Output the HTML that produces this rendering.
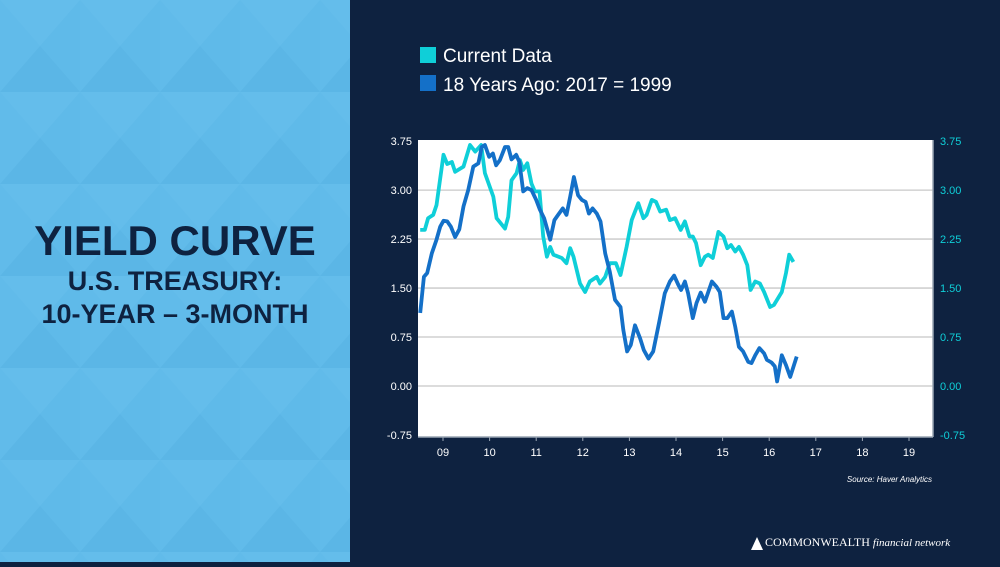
<!DOCTYPE html>
<html><head><meta charset="utf-8"><style>
body{margin:0;width:1000px;height:562px;overflow:hidden;background:#0e2240;font-family:"Liberation Sans",Arial,sans-serif}
</style></head><body>
<svg width="1000" height="562" xmlns="http://www.w3.org/2000/svg">
<defs><pattern id="tri" width="80" height="92" patternUnits="userSpaceOnUse">
<rect width="80" height="92" fill="#5fbae9"/>
<polygon points="0,0 80,0 40,46" fill="#64bdeb"/>
<polygon points="40,46 80,92 0,92" fill="#5bb6e6"/>
<polygon points="0,0 40,46 0,92" fill="#61bbea"/>
</pattern></defs>
<rect x="0" y="0" width="350" height="562" fill="url(#tri)"/>
<rect x="350" y="0" width="650" height="562" fill="#0e2240"/>
<g fill="#0e2240" font-weight="bold" text-anchor="middle">
<text x="175" y="255" font-size="42">YIELD CURVE</text>
<text x="175" y="290" font-size="27">U.S. TREASURY:</text>
<text x="175" y="323" font-size="27">10-YEAR – 3-MONTH</text>
</g>
<g>
<rect x="420" y="47" width="16" height="16" fill="#0fcfd8"/>
<text x="443" y="62" font-size="19" fill="#fff">Current Data</text>
<rect x="420" y="75" width="16" height="16" fill="#1470c8"/>
<text x="443" y="91" font-size="19" fill="#fff">18 Years Ago: 2017 = 1999</text>
</g>
<rect x="418" y="140" width="515" height="297" fill="#fff"/>
<g id="grid"></g><g id="axes"></g><g id="series"></g>
<text x="932" y="482" font-size="8" font-style="italic" fill="#fff" text-anchor="end">Source: Haver Analytics</text>
<g>
<polygon points="757,537 751,550 763,550" fill="#fff"/>
<text x="765" y="546" font-family="Liberation Serif,serif" font-size="12" fill="#fff">COMMONWEALTH <tspan font-style="italic" font-size="11">financial network</tspan></text>
</g>
</svg>
<script>
const yTicks=[3.75,3.00,2.25,1.50,0.75,0.00,-0.75];
const yTickLabels=["3.75","3.00","2.25","1.50","0.75","0.00","-0.75"];
const xTicks=[2009,2010,2011,2012,2013,2014,2015,2016,2017,2018,2019];
const xTickLabels=["09","10","11","12","13","14","15","16","17","18","19"];
const curT=[2008.51,2008.61,2008.68,2008.79,2008.86,2009.01,2009.09,2009.19,2009.26,2009.44,2009.58,2009.69,2009.82,2009.90,2010.08,2010.15,2010.33,2010.40,2010.47,2010.58,2010.65,2010.72,2010.81,2010.90,2010.97,2011.07,2011.15,2011.23,2011.30,2011.37,2011.55,2011.65,2011.73,2011.80,2011.94,2012.05,2012.15,2012.30,2012.37,2012.48,2012.58,2012.71,2012.81,2012.94,2013.05,2013.19,2013.30,2013.37,2013.48,2013.57,2013.66,2013.79,2013.87,2013.98,2014.10,2014.19,2014.29,2014.36,2014.43,2014.53,2014.62,2014.69,2014.79,2014.91,2015.02,2015.10,2015.18,2015.27,2015.35,2015.44,2015.53,2015.60,2015.70,2015.80,2015.89,2016.02,2016.10,2016.27,2016.36,2016.43,2016.52];
const curV=[2.39,2.39,2.57,2.62,2.77,3.54,3.40,3.43,3.28,3.36,3.69,3.59,3.69,3.26,2.90,2.57,2.41,2.59,3.15,3.26,3.46,3.31,3.41,3.10,2.98,2.98,2.29,1.98,2.13,2.01,1.96,1.88,2.11,1.98,1.57,1.44,1.60,1.67,1.57,1.67,1.88,1.88,1.70,2.13,2.54,2.80,2.57,2.62,2.85,2.82,2.67,2.70,2.54,2.57,2.39,2.52,2.29,2.29,2.19,1.85,1.98,2.01,1.96,2.36,2.29,2.11,2.16,2.06,2.13,2.01,1.85,1.47,1.60,1.57,1.44,1.21,1.24,1.44,1.73,2.01,1.90];
const pastT=[2008.51,2008.59,2008.66,2008.76,2008.86,2008.94,2009.01,2009.09,2009.17,2009.26,2009.35,2009.44,2009.54,2009.65,2009.76,2009.83,2009.90,2009.99,2010.07,2010.14,2010.22,2010.33,2010.40,2010.47,2010.57,2010.64,2010.72,2010.81,2010.90,2011.00,2011.08,2011.17,2011.30,2011.39,2011.47,2011.57,2011.65,2011.73,2011.81,2011.90,2011.98,2012.06,2012.13,2012.21,2012.30,2012.38,2012.48,2012.58,2012.69,2012.81,2012.87,2012.95,2013.03,2013.12,2013.23,2013.31,2013.41,2013.51,2013.64,2013.76,2013.87,2013.96,2014.05,2014.11,2014.19,2014.26,2014.36,2014.44,2014.53,2014.62,2014.77,2014.87,2014.94,2015.02,2015.10,2015.20,2015.27,2015.35,2015.44,2015.55,2015.62,2015.70,2015.79,2015.89,2015.95,2016.05,2016.12,2016.17,2016.27,2016.36,2016.45,2016.59];
const pastV=[1.12,1.67,1.73,2.03,2.24,2.44,2.53,2.52,2.44,2.28,2.40,2.75,3.00,3.36,3.41,3.66,3.69,3.51,3.56,3.38,3.46,3.66,3.66,3.47,3.54,3.43,2.98,3.03,3.00,2.85,2.70,2.57,2.24,2.54,2.62,2.72,2.62,2.90,3.20,2.92,2.85,2.82,2.64,2.72,2.64,2.52,2.03,1.75,1.32,1.21,0.86,0.53,0.63,0.93,0.73,0.55,0.42,0.53,0.98,1.42,1.60,1.69,1.55,1.47,1.60,1.42,1.04,1.27,1.43,1.29,1.60,1.52,1.44,1.04,1.04,1.14,0.91,0.60,0.53,0.37,0.35,0.47,0.58,0.50,0.40,0.36,0.30,0.07,0.47,0.32,0.14,0.45];
const NS='http://www.w3.org/2000/svg';
function xS(t){return 443+(t-2009)*46.6;}
function yS(v){return 386-v*65.3;}
function mk(tag,attrs,parent){const e=document.createElementNS(NS,tag);for(const k in attrs)e.setAttribute(k,attrs[k]);parent.appendChild(e);return e;}
const grid=document.getElementById('grid'),axes=document.getElementById('axes'),series=document.getElementById('series');
yTicks.forEach((v,i)=>{
  const y=yS(v);
  if(i>0&&i<yTicks.length-1){const g=mk('line',{x1:418,x2:933,y1:y,y2:y,stroke:'#c8c8c8','stroke-width':1.3},grid);
  
  }
  const l=mk('text',{x:412,y:y+4,'font-size':11,fill:'#fff','text-anchor':'end'},axes);l.textContent=yTickLabels[i];
  
  
  const r=mk('text',{x:940,y:y+4,'font-size':11,fill:'#0fcfd8'},axes);r.textContent=yTickLabels[i];
  
  
});
mk('line',{x1:418,x2:933,y1:437,y2:437,stroke:'#9aa6b4','stroke-width':1.5},axes);
mk('line',{x1:933,x2:933,y1:140,y2:437,stroke:'#9aa6b4','stroke-width':1.5},axes);
xTicks.forEach((t,i)=>{
  const x=xS(t);
  const tk=mk('line',{x1:x,x2:x,y1:437,y2:441,stroke:'#9aa6b4'},axes);
  
  
  const l=mk('text',{x:x,y:456,'font-size':11,fill:'#fff','text-anchor':'middle'},axes);l.textContent=xTickLabels[i];
  
  
});
function path(T,V,c,name){
  const d=T.map((t,i)=>(i?'L':'M')+xS(t).toFixed(1)+','+yS(V[i]).toFixed(1)).join('');
  const p=mk('path',{d:d,fill:'none',stroke:c,'stroke-width':3.8,'stroke-linejoin':'round'},series);
  
  
}
path(curT,curV,'#0fcfd8','line-current-data');
path(pastT,pastV,'#1470c8','line-18-years-ago');
</script>
</body></html>
